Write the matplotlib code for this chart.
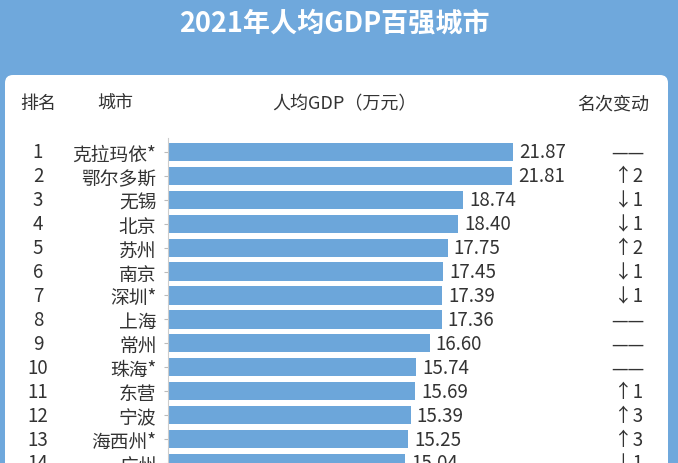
import matplotlib
matplotlib.use("Agg")
import matplotlib.pyplot as plt
from matplotlib.patches import FancyBboxPatch
from matplotlib.transforms import blended_transform_factory

plt.rcParams['font.family'] = ['Noto Sans CJK SC', 'DejaVu Sans']

ranks = list(range(1, 15))
cities = ["克拉玛依*", "鄂尔多斯", "无锡", "北京", "苏州", "南京", "深圳*",
          "上海", "常州", "珠海*", "东营", "宁波", "海西州*", "广州"]
gdp = [21.87, 21.81, 18.74, 18.40, 17.75, 17.45, 17.39,
       17.36, 16.60, 15.74, 15.69, 15.39, 15.25, 15.04]
changes = ["——", "↑2", "↓1", "↓1", "↑2", "↓1", "↓1",
           "——", "——", "——", "↑1", "↑3", "↑3", "↓1"]

W, H = 678, 464
BLUE = "#6fa8dc"
BAR = "#6ca6da"
TXT = "#333333"

fig = plt.figure(figsize=(W / 100, H / 100), dpi=100, facecolor=BLUE)

# background layer in pixel units
bg = fig.add_axes([0, 0, 1, 1])
bg.set_xlim(0, W); bg.set_ylim(H, 0)
bg.axis("off")
bg.add_patch(FancyBboxPatch((5, 76), 663, 450,
                            boxstyle="round,pad=0,rounding_size=8",
                            facecolor="white", edgecolor="none"))
bg.text(334, 24, "2021年人均GDP百强城市", color="white", fontsize=19.5,
        fontweight="bold", ha="center", va="center")
for x, s in [(38, "排名"), (115, "城市"), (344, "人均GDP（万元）"), (613, "名次变动")]:
    bg.text(x, 104, s, color=TXT, fontsize=13, fontweight="medium",
            ha="center", va="center")

# bar chart
left_px, right_px, top_px = 167.5, 660, 138.5
ax = fig.add_axes([left_px / W, 0, (right_px - left_px) / W, (H - top_px) / H])
ax.barh(ranks, gdp, height=0.76, color=BAR, zorder=2)
ax.set_xlim(0, (right_px - left_px) / 15.79)
ax.set_ylim(1 + (H - 153) / 24.08, 1 + (top_px - 153) / 24.08)
ax.set_facecolor("none")
for sp in ["top", "right", "bottom"]:
    ax.spines[sp].set_visible(False)
ax.spines["left"].set_color("#cccccc")
ax.spines["left"].set_linewidth(0.8)
ax.set_xticks([])
ax.set_yticks(ranks)
ax.set_yticklabels(cities, fontsize=13.5, color=TXT)
ax.tick_params(axis="y", length=3, width=0.8, color="#bbbbbb", pad=5)

for r, v in zip(ranks, gdp):
    ax.text(v + 0.38, r, f"{v:.2f}", fontsize=13.5, color=TXT,
            ha="left", va="center", clip_on=False)

tr = blended_transform_factory(bg.transData, ax.transData)
for r, c in zip(ranks, changes):
    ax.text(38, r, str(r), transform=tr, fontsize=13.5, color=TXT,
            ha="center", va="center", clip_on=False)
    if c == "——":
        ax.text(627.5, r, c, transform=tr, fontsize=12, color=TXT,
                family="DejaVu Sans", ha="center", va="center", clip_on=False)
    else:
        ax.text(629, r, c, transform=tr, fontsize=13.5, color=TXT,
                ha="center", va="center", clip_on=False)

fig.savefig("out.png", dpi=100, facecolor=BLUE)
